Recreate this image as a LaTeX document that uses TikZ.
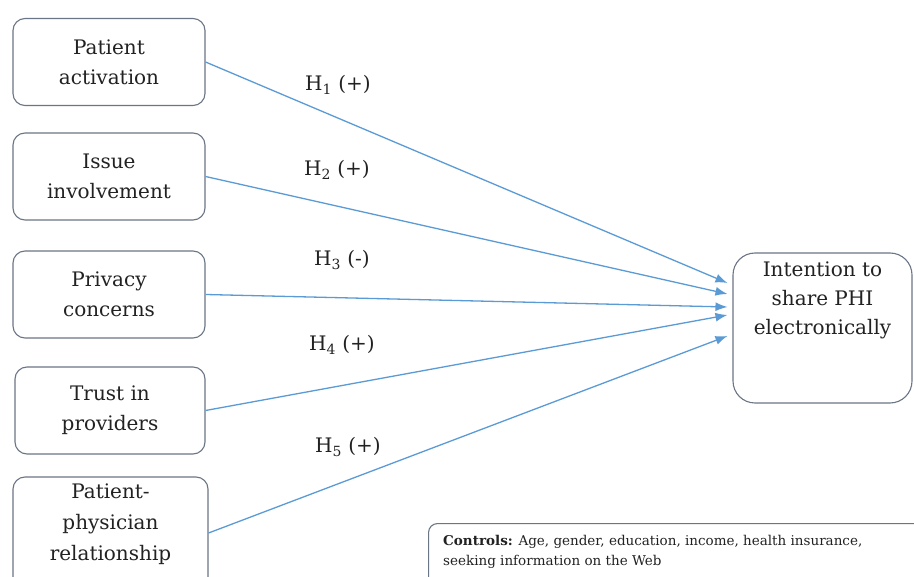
\documentclass[tikz,border=0pt]{standalone}
\usepackage{fontspec}
\setmainfont{DejaVu Serif}
\newfontfamily\ctrlfont{DejaVu Serif}
\usetikzlibrary{arrows.meta}
\definecolor{boxline}{HTML}{6A7585}
\definecolor{arrowblue}{HTML}{5B9BD5}
\definecolor{txt}{HTML}{222222}
\begin{document}
\begin{tikzpicture}[x=1pt,y=-1pt,
  every node/.style={text=txt},
  srcbox/.style={draw=boxline, line width=1.1pt, rounded corners=12pt, minimum width=192pt, minimum height=87pt, align=center, font=\fontsize{20}{30}\selectfont, inner sep=0pt},
  tgtbox/.style={draw=boxline, line width=1.1pt, rounded corners=22pt, minimum width=179pt, minimum height=150pt, inner sep=0pt},
  conn/.style={draw=arrowblue, line width=1.3pt, -{Latex[length=12pt,width=9pt]}},
  hlab/.style={font=\fontsize{20}{26}\selectfont, inner sep=0pt},
  ctrlbox/.style={draw=boxline, line width=1.1pt, rounded corners=9pt, minimum width=510pt, minimum height=90pt, inner sep=0pt}
]
\useasboundingbox (0,0) rectangle (914,577);
\clip (0,0) rectangle (914,577);
\fill[white] (0,0) rectangle (914,577);

\node[srcbox] (b1) at (109,62) {Patient\\activation};
\node[srcbox] (b2) at (109,176.5) {Issue\\involvement};
\node[srcbox] (b3) at (109,294.5) {Privacy\\concerns};
\node[srcbox, minimum width=190pt] (b4) at (110,410.5) {Trust in\\providers};
\node[srcbox, minimum width=195pt, minimum height=112pt] (b5) at (110.5,533) {};
\node[align=center, font=\fontsize{20}{31}\selectfont, inner sep=0pt] (b5t) at (110.5,524) {Patient-\\physician\\relationship};

\node[tgtbox] (t) at (822.5,328) {};
\node[align=center, font=\fontsize{20}{29}\selectfont, inner sep=0pt] (tt) at (822.5,300) {Intention to\\share PHI\\electronically};

\draw[conn] (b1.east) -- ([xshift=-5pt,yshift=45pt]t.west);
\draw[conn] (b2.east) -- ([xshift=-5pt,yshift=34pt]t.west);
\draw[conn] (b3.east) -- ([xshift=-5pt,yshift=21pt]t.west);
\draw[conn] (b4.east) -- ([xshift=-5pt,yshift=13pt]t.west);
\draw[conn] (b5.east) -- ([xshift=-5pt,yshift=-8pt]t.west);

\node[hlab] (h1) at (338,85) {H\textsubscript{1} (+)};
\node[hlab] (h2) at (337,170) {H\textsubscript{2} (+)};
\node[hlab] (h3) at (342,260) {H\textsubscript{3} (-)};
\node[hlab] (h4) at (342,345) {H\textsubscript{4} (+)};
\node[hlab] (h5) at (348,447) {H\textsubscript{5} (+)};

\node[ctrlbox, anchor=north west] (c) at (428,523) {};
\node[anchor=north west, align=left, inner sep=0pt, font=\ctrlfont\fontsize{13.5}{20}\selectfont] (ct) at (443,535) {\textbf{Controls:} Age, gender, education, income, health insurance,\\seeking information on the Web};
\end{tikzpicture}
\end{document}
